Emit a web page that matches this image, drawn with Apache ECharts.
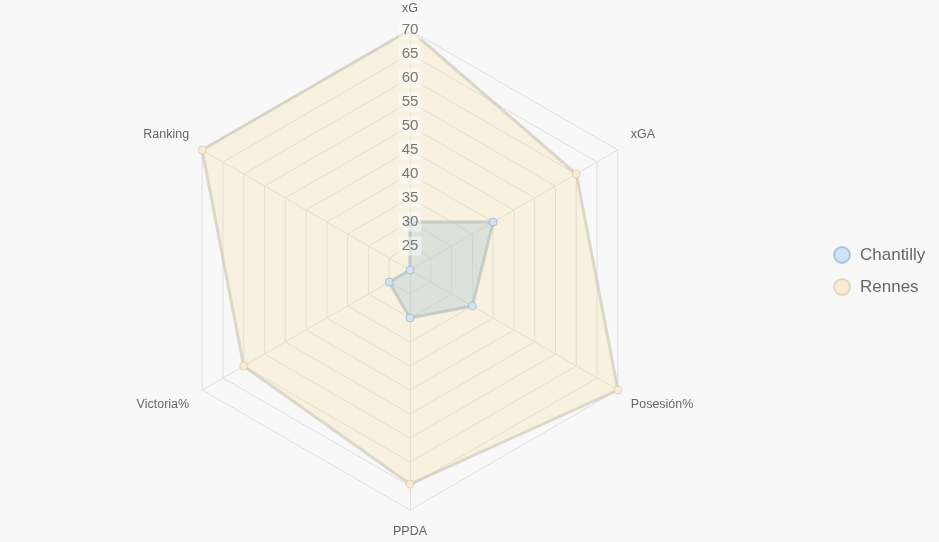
<!DOCTYPE html>
<html>
<head>
<meta charset="utf-8">
<script src="https://cdn.jsdelivr.net/npm/echarts@6/dist/echarts.min.js"></script>
<style>
html,body{margin:0;padding:0;background:#f8f8f8;}
#main{width:939px;height:542px;}
</style>
</head>
<body>
<div id="main"></div>
<script>
// Indicators in counter-clockwise order starting at the top
const indicators = ['xG', 'Ranking', 'Victoria%', 'PPDA', 'Posesión%', 'xGA'];
const axisMin = 20;
const axisMax = 70;
const seriesNames = ['Chantilly', 'Rennes'];
const chantillyValues = [30, 20, 25, 30, 35, 40];
const rennesValues = [70, 70, 60, 64.6, 70, 60];

const FONT = '"Liberation Sans", Arial, sans-serif';
const upperSide = ['Ranking', 'xGA'];
const lowerSide = ['Victoria%', 'Posesión%'];
const chart = echarts.init(document.getElementById('main'));

const baseRadar = {
  center: [410, 270],
  radius: 240,
  splitNumber: 10,
  axisNameGap: 15
};

chart.setOption({
  backgroundColor: '#f8f8f8',
  textStyle: { fontFamily: FONT },
  legend: {
    orient: 'vertical',
    left: 828,
    top: 'middle',
    icon: 'circle',
    itemWidth: 16,
    itemHeight: 16,
    itemGap: 14,
    data: seriesNames,
    textStyle: { fontSize: 17, color: '#666', fontFamily: FONT, padding: [0, 0, 0, 5] }
  },
  radar: [
    Object.assign({}, baseRadar, {
      z: 0,
      indicator: indicators.map(n => ({ name: n, min: axisMin, max: axisMax })),
      axisName: {
        color: '#666', fontSize: 12.5, fontFamily: FONT,
        formatter: function (name) {
          if (upperSide.indexOf(name) >= 0) return '{up|' + name + '}';
          if (lowerSide.indexOf(name) >= 0) return '{down|' + name + '}';
          return '{n|' + name + '}';
        },
        rich: {
          n: { color: '#666', fontSize: 12.5, fontFamily: FONT },
          up: { color: '#666', fontSize: 12.5, fontFamily: FONT, padding: [0, 0, 16, 0] },
          down: { color: '#666', fontSize: 12.5, fontFamily: FONT, padding: [14, 0, 0, 0] }
        }
      },
      axisLabel: { show: false },
      axisLine: { lineStyle: { color: '#dedede' } },
      splitLine: { lineStyle: { color: '#dedede', width: 1 } },
      splitArea: { show: false }
    }),
    Object.assign({}, baseRadar, {
      z: 10,
      indicator: indicators.map((n, i) => {
        const o = { name: '', min: axisMin, max: axisMax };
        if (i === 0) {
          o.axisLabel = {
            show: true, showMinLabel: false, margin: 0, align: 'center', verticalAlign: 'middle',
            fontSize: 15, color: '#787878', backgroundColor: 'rgba(255,255,255,0.45)', padding: [2, 3],
            fontFamily: FONT
          };
        }
        return o;
      }),
      axisName: { show: false },
      axisLabel: { show: false },
      axisLine: { show: false },
      axisTick: { show: false },
      splitLine: { show: false },
      splitArea: { show: false }
    })
  ],
  series: [{
    type: 'radar',
    radarIndex: 0,
    z: 2,
    symbol: 'circle',
    symbolSize: 8,
    data: [
      {
        name: seriesNames[0],
        value: chantillyValues,
        itemStyle: { color: '#cfe3f5', borderColor: 'rgba(130,165,195,0.55)', borderWidth: 1 },
        lineStyle: { color: 'rgba(140,170,188,0.6)', width: 3 },
        areaStyle: { color: 'rgba(140,190,228,0.5)' }
      },
      {
        name: seriesNames[1],
        value: rennesValues,
        itemStyle: { color: '#faecd2', borderColor: 'rgba(205,185,150,0.5)', borderWidth: 1 },
        lineStyle: { color: 'rgba(190,185,175,0.55)', width: 3 },
        areaStyle: { color: 'rgba(248,222,160,0.4)' }
      }
    ]
  }]
});
</script>
</body>
</html>
